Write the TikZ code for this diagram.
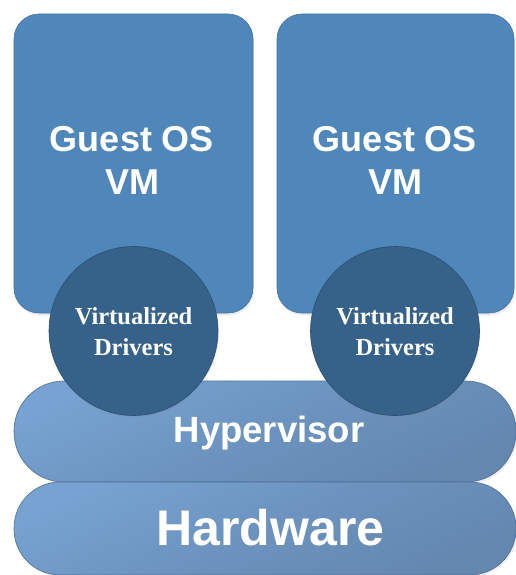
\documentclass[tikz,border=0pt]{standalone}
\usepackage{fontspec}
\setmainfont{Liberation Serif}
\setsansfont{Liberation Sans}
\usetikzlibrary{shadows}
\definecolor{boxfill}{HTML}{4F87BA}
\definecolor{boxline}{HTML}{4272A0}
\definecolor{circfill}{HTML}{366188}
\definecolor{circline}{HTML}{2B4F72}
\definecolor{caplight}{HTML}{77A2D1}
\definecolor{capdark}{HTML}{6387AF}
\definecolor{capline}{HTML}{4D7098}
\tikzset{
  vmbox/.style={fill=boxfill, draw=boxline, line width=0.6pt, rounded corners=25pt,
    drop shadow={opacity=0.15, shadow xshift=1pt, shadow yshift=-2.5pt}},
  drvcirc/.style={circle, fill=circfill, draw=circline, line width=0.6pt,
    minimum size=169pt, inner sep=0pt,
    drop shadow={opacity=0.12, shadow xshift=1pt, shadow yshift=-2pt}},
  capsule/.style={top color=caplight, bottom color=capdark, middle color=capdark!55!caplight, shading angle=25,
    draw=capline, line width=0.6pt,
    drop shadow={opacity=0.12, shadow xshift=1.5pt, shadow yshift=-2pt}},
  bigtxt/.style={text=white, font=\sffamily\bfseries\fontsize{36}{43}\selectfont, align=center, inner sep=0pt},
  drvtxt/.style={text=white, font=\rmfamily\bfseries\fontsize{24.5}{31}\selectfont, align=center, inner sep=0pt},
}
\begin{document}
\begin{tikzpicture}[x=1pt, y=-1pt]
\useasboundingbox (0,0) rectangle (515,575);
% guest boxes
\path[vmbox] (14,14) rectangle (253,313);
\path[vmbox] (277,14) rectangle (514,313);
\node[bigtxt] (g1) at (132,160.5) {Guest OS\\VM};
\node[bigtxt] (g2) at (395,160.5) {Guest OS\\VM};
% hypervisor and hardware
\path[capsule, rounded corners=50pt] (14,381) rectangle (516,482);
\path[capsule, rounded corners=46pt] (14,482) rectangle (516,575);
\node[text=white, font=\sffamily\bfseries\fontsize{36.5}{43}\selectfont, anchor=base, inner sep=0pt] (hyp) at (269,442) {Hypervisor};
\node[text=white, font=\sffamily\bfseries\fontsize{50}{60}\selectfont, anchor=base, inner sep=0pt] (hw) at (270.5,545) {Hardware};
% drivers
\node[drvcirc] (d1) at (133.5,331) {};
\node[drvcirc] (d2) at (395,331) {};
\node[drvtxt] (t1) at (133.5,331.5) {Virtualized\\Drivers};
\node[drvtxt] (t2) at (395,331.5) {Virtualized\\Drivers};
\end{tikzpicture}
\end{document}
